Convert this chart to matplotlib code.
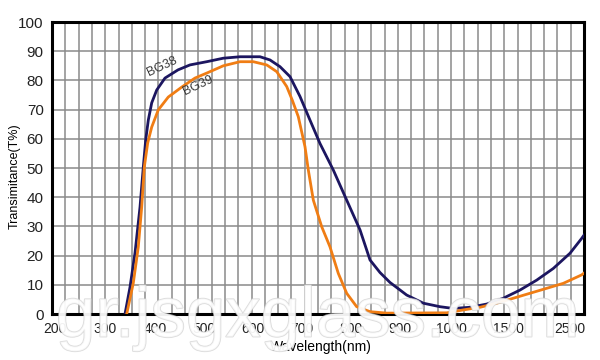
import numpy as np
import matplotlib
matplotlib.use('Agg')
import matplotlib.pyplot as plt
import matplotlib.patheffects as pe

# x axis of the original is not uniform: tick wavelength -> pixel position
tick_wl = [200, 300, 400, 500, 600, 700, 800, 900, 1000, 1500, 2500]
tick_px = [55, 105, 155, 204, 253, 302, 351, 400, 451, 508, 570]
knot_wl = [194] + tick_wl + [2725]
knot_px = [52] + tick_px + [584]

# BG38 transmittance
bg38_wl = [340, 350, 360, 370, 376.6, 381.4, 386.6, 393.4, 403.5, 420.4, 446.9, 471.4,
           505.5, 539.4, 573.5, 614.3, 634.7, 655.1, 675.5, 695.9, 716.3, 736.7, 763.9,
           791.2, 818.4, 838.8, 859.2, 879.6, 898.6, 913, 945.7, 978.4, 1020, 1166.7,
           1313, 1458.8, 1693.5, 1962.9, 2230.6, 2500, 2688, 2725]
bg38_t = [0, 9.2, 20.9, 36.6, 50.3, 59.6, 66.4, 72.3, 76.7, 80.8, 83.6, 85.3,
          86.4, 87.6, 88.1, 88.1, 87, 84.7, 81.3, 74.5, 66.4, 58.4, 49.3,
          39, 28.8, 18.5, 14.2, 10.8, 8.4, 6.5, 3.7, 2.5, 1.9, 2.3,
          3.4, 5.4, 8.2, 11.6, 15.6, 20.8, 25.9, 27]

# BG39 transmittance
bg39_wl = [343.4, 356.6, 366.6, 373.4, 378.6, 385.4, 393.4, 406.7, 427.1, 454.5, 481.6,
           505.5, 539.4, 573.5, 600.6, 628, 648.4, 668.8, 680, 692.4, 706.1, 712.9,
           723.1, 740.2, 757.1, 774.1, 791.2, 811.6, 838.8, 872.9, 991.6, 1107.9,
           1254.4, 1400.9, 1585.5, 1854.8, 2124.2, 2391.9, 2688, 2725]
bg39_t = [0, 10.6, 23, 36.6, 50.3, 58.6, 64, 69.9, 74.3, 77.7, 80.8,
          82.5, 85, 86.4, 86.4, 85.3, 83, 77.9, 73.3, 67.6, 57.3, 49.3,
          39, 29.9, 23, 13.9, 7.1, 2.5, 0.8, 0.3, 0.4, 1.4,
          2.3, 3.7, 5.4, 7.1, 8.8, 10.5, 13.4, 14]

plt.rcParams['font.family'] = ['Liberation Sans', 'DejaVu Sans']


def fwd(x):
    return np.interp(x, knot_wl, knot_px)


def inv(p):
    return np.interp(p, knot_px, knot_wl)


fig = plt.figure(figsize=(6, 3.6), dpi=100)
ax = fig.add_axes([52 / 600, 46 / 360, 532 / 600, 292 / 360])
ax.set_xscale('function', functions=(fwd, inv))
ax.set_xlim(194, 2725)
ax.set_ylim(0, 100)

# decorative grid: 40 even columns, 10 rows
ax.vlines(np.linspace(0, 1, 41), 0, 1, transform=ax.transAxes,
          color='#8a8a8a', lw=1.1, zorder=0)
ax.set_yticks(range(0, 101, 10))
ax.grid(axis='y', color='#8a8a8a', lw=1.1, zorder=0)
ax.set_axisbelow(True)

ax.plot(bg38_wl, bg38_t, color='#1c1660', lw=2.0, zorder=3, solid_joinstyle='round')
ax.plot(bg39_wl, bg39_t, color='#f07d14', lw=2.0, zorder=3, solid_joinstyle='round')

ax.text(414, 84.6, 'BG38', rotation=25, fontsize=9, color='#3a3a3a',
        ha='center', va='center', zorder=4)
ax.text(488, 78.4, 'BG39', rotation=25, fontsize=9, color='#3a3a3a',
        ha='center', va='center', zorder=4)

ax.set_xticks(tick_wl)
ax.set_xticklabels([str(t) for t in tick_wl])
ax.xaxis.set_minor_locator(plt.NullLocator())
ax.tick_params(length=0, labelsize=10, colors='#222222')
ax.tick_params(axis='y', pad=6, labelsize=11)
ax.tick_params(axis='x', pad=6)

for s in ax.spines.values():
    s.set_linewidth(2.2)
    s.set_color('black')

ax.set_ylabel('Transimitance(T%)', fontsize=9)
ax.yaxis.set_label_coords(-0.058, 0.473)
ax.set_xlabel('Wavelength(nm)', fontsize=10)
ax.xaxis.set_label_coords(0.506, -0.09)

# watermark
fig.text(0.53, 0.115, 'gr.jsgxglass.com', fontsize=51, color='white', alpha=0.75,
         ha='center', va='center', zorder=10,
         path_effects=[pe.withStroke(linewidth=1.2, foreground='#d0d0d0')])

fig.savefig('out.png', dpi=100)
